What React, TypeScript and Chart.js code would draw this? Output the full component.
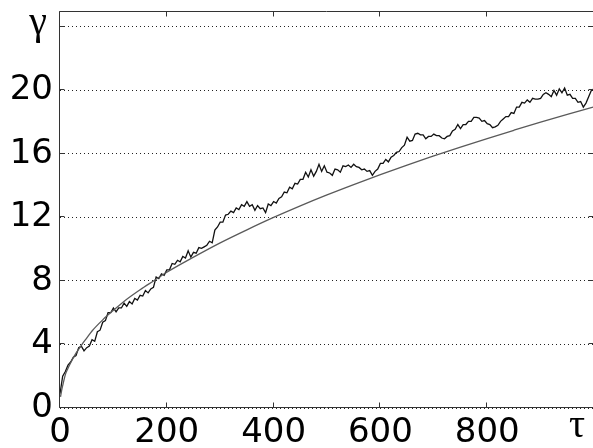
import { useEffect, useRef } from "react";
import { Chart, registerables } from "chart.js";

Chart.register(...registerables);

// Axis ticks and their printed labels
const X_TICKS = [0, 200, 400, 600, 800, 1000];
const X_LABELS = ["0", "200", "400", "600", "800", ""];
const Y_TICKS = [0, 4, 8, 12, 16, 20, 24];
const Y_LABELS = ["0", "4", "8", "12", "16", "20", ""];
const X_SYMBOL = "τ";
const Y_SYMBOL = "γ";
const Y_SYMBOL_AT = 24;

// Simulated trajectory γ(τ), sampled every SAMPLE_STEP units of τ
const SAMPLE_STEP = 5;
const trajectoryGamma = [
  0.9, 2.0, 2.3, 2.7, 2.9, 3.2, 3.3, 3.8, 3.9, 3.6,
  3.8, 3.9, 4.3, 4.2, 4.8, 4.9, 5.4, 5.5, 6.0, 6.0,
  6.3, 6.05, 6.3, 6.3, 6.6, 6.4, 6.7, 6.55, 6.9, 6.8,
  7.1, 7.05, 7.4, 7.25, 7.5, 7.6, 8.25, 8.15, 8.45, 8.35,
  8.7, 8.7, 9.1, 9.05, 9.3, 9.2, 9.55, 9.45, 9.9, 9.5,
  9.8, 9.75, 10.1, 10.05, 10.15, 10.25, 10.5, 10.4, 11.2, 11.4,
  11.7, 11.7, 12.15, 12.2, 12.4, 12.3, 12.6, 12.5, 12.8, 12.7,
  13.0, 12.7, 12.8, 12.45, 12.75, 12.55, 12.6, 12.3, 12.85, 12.75,
  13.0, 12.9, 13.2, 13.3, 13.6, 13.55, 13.9, 13.8, 14.15, 14.1,
  14.4, 14.4, 14.85, 14.55, 15.0, 14.6, 14.9, 15.35, 14.9, 15.25,
  14.85, 14.8, 14.65, 15.05, 15.0, 14.85, 15.25, 15.2, 15.3, 15.15,
  15.35, 15.2, 15.15, 15.0, 15.05, 14.9, 14.95, 14.65, 14.9, 15.05,
  15.4, 15.4, 15.65, 15.5, 15.8, 15.9, 16.1, 16.15, 16.4, 16.55,
  17.05, 16.8, 16.85, 17.25, 17.3, 17.2, 17.2, 16.95, 17.1, 17.1,
  17.25, 17.15, 17.15, 17.0, 16.95, 17.1, 17.15, 17.45, 17.55, 17.85,
  17.6, 17.85, 17.85, 18.05, 18.05, 18.3, 18.3, 18.25, 18.05, 18.1,
  17.9, 17.85, 17.65, 17.7, 17.8, 18.05, 18.2, 18.35, 18.35, 18.6,
  18.55, 18.95, 18.95, 19.25, 19.2, 19.4, 19.25, 19.5, 19.45, 19.45,
  19.5, 19.75, 19.85, 19.75, 19.6, 20.0, 19.7, 20.1, 19.85, 20.15,
  19.7, 19.75, 19.5, 19.5, 19.25, 19.3, 18.95, 19.2, 19.6, 20.0,
  20.1,
];

// Fitted mean curve
const fitTau = [
  1, 3, 6, 10, 15, 20, 30, 40, 50, 60, 80, 100, 125, 150, 175, 200,
  250, 300, 350, 400, 450, 500, 550, 600, 650, 700, 750, 800, 850, 900, 950, 1000,
];
const fitGamma = [
  0.7, 1.1, 1.55, 2.1, 2.5, 2.85, 3.45, 3.95, 4.4, 4.85, 5.55, 6.15, 6.85, 7.45, 8.0, 8.55,
  9.5, 10.4, 11.22, 12.0, 12.73, 13.42, 14.07, 14.7, 15.3, 15.87, 16.43, 16.97, 17.49, 18.0, 18.49, 18.97,
];

const FONT = '"DejaVu Sans", "Liberation Sans", Arial, sans-serif';
const SYMBOL_FONT = '"Liberation Serif", "DejaVu Serif", serif';

const framePlugin = {
  id: "matlabFrame",
  afterDatasetsDraw(chart: any) {
    const { ctx, chartArea: a, scales } = chart;
    const x = scales.x;
    const y = scales.y;
    const L = Math.round(a.left) - 0.5;
    const R = Math.round(a.right) - 0.5;
    const T = Math.round(a.top) + 0.5;
    const B = Math.round(a.bottom) - 0.5;
    ctx.save();
    ctx.strokeStyle = "#333";
    ctx.lineWidth = 1;
    ctx.beginPath();
    ctx.rect(L, T, R - L, B - T);
    // inward tick marks
    const tl = 5;
    X_TICKS.forEach((v) => {
      const px = Math.round(x.getPixelForValue(v)) - 0.5;
      ctx.moveTo(px, B);
      ctx.lineTo(px, B - tl);
      ctx.moveTo(px, T);
      ctx.lineTo(px, T + tl);
    });
    Y_TICKS.forEach((v) => {
      const py = Math.round(y.getPixelForValue(v)) - 0.5;
      ctx.moveTo(L, py);
      ctx.lineTo(L + tl, py);
      ctx.moveTo(R, py);
      ctx.lineTo(R - tl, py);
    });
    ctx.stroke();

    // axis symbols
    ctx.fillStyle = "#000";
    ctx.font = `40px ${SYMBOL_FONT}`;
    ctx.textAlign = "center";
    ctx.textBaseline = "alphabetic";
    ctx.fillText(Y_SYMBOL, a.left - 22, y.getPixelForValue(Y_SYMBOL_AT) + 7);
    ctx.fillText(X_SYMBOL, a.right - 17, a.bottom + 29);
    ctx.restore();
  },
};

export default function App() {
  const canvasRef = useRef<HTMLCanvasElement | null>(null);

  useEffect(() => {
    const canvas = canvasRef.current;
    if (!canvas) return;

    const trajectory = trajectoryGamma.map((g, i) => ({ x: i * SAMPLE_STEP, y: g }));
    const fit = fitTau.map((t, i) => ({ x: t, y: fitGamma[i] }));

    const chart = new Chart(canvas, {
      type: "line",
      data: {
        datasets: [
          {
            data: fit,
            borderColor: "#5a5a5a",
            borderWidth: 1.3,
            pointRadius: 0,
            cubicInterpolationMode: "monotone",
            fill: false,
          },
          {
            data: trajectory,
            borderColor: "#111",
            borderWidth: 1.3,
            pointRadius: 0,
            tension: 0,
            fill: false,
          },
        ],
      },
      options: {
        animation: false,
        responsive: false,
        devicePixelRatio: 1,
        events: [],
        layout: { padding: { top: 11, right: 6, left: 0, bottom: 0 } },
        plugins: {
          legend: { display: false },
          tooltip: { enabled: false },
          title: { display: false },
        },
        scales: {
          x: {
            type: "linear",
            min: 0,
            max: 1000,
            afterBuildTicks: (s: any) => {
              s.ticks = X_TICKS.map((v) => ({ value: v }));
            },
            afterFit: (s: any) => {
              s.height = 40;
              s.paddingLeft = 0;
              s.paddingRight = 0;
            },
            grid: { display: false, drawTicks: false },
            border: { display: false },
            ticks: {
              padding: 5,
              maxRotation: 0,
              autoSkip: false,
              color: "#000",
              font: { family: FONT, size: 34 },
              callback: (_v: any, i: number) => X_LABELS[i],
            },
          },
          y: {
            type: "linear",
            min: 0,
            max: 25,
            afterBuildTicks: (s: any) => {
              s.ticks = Y_TICKS.map((v) => ({ value: v }));
            },
            afterFit: (s: any) => {
              s.width = 60;
              s.paddingTop = 0;
              s.paddingBottom = 0;
            },
            grid: {
              drawTicks: false,
              color: "#222",
              lineWidth: 1,
            },
            border: { display: false, dash: [1, 3] },
            ticks: {
              padding: 7,
              autoSkip: false,
              color: "#000",
              font: { family: FONT, size: 34 },
              callback: (_v: any, i: number) => Y_LABELS[i],
            },
          },
        },
      },
      plugins: [framePlugin],
    });

    return () => chart.destroy();
  }, []);

  return (
    <div
      style={{
        position: "absolute",
        left: 0,
        top: 0,
        width: 593,
        height: 448,
        overflow: "hidden",
        background: "#fff",
      }}
    >
      <canvas ref={canvasRef} width={600} height={448} style={{ display: "block" }} />
    </div>
  );
}
